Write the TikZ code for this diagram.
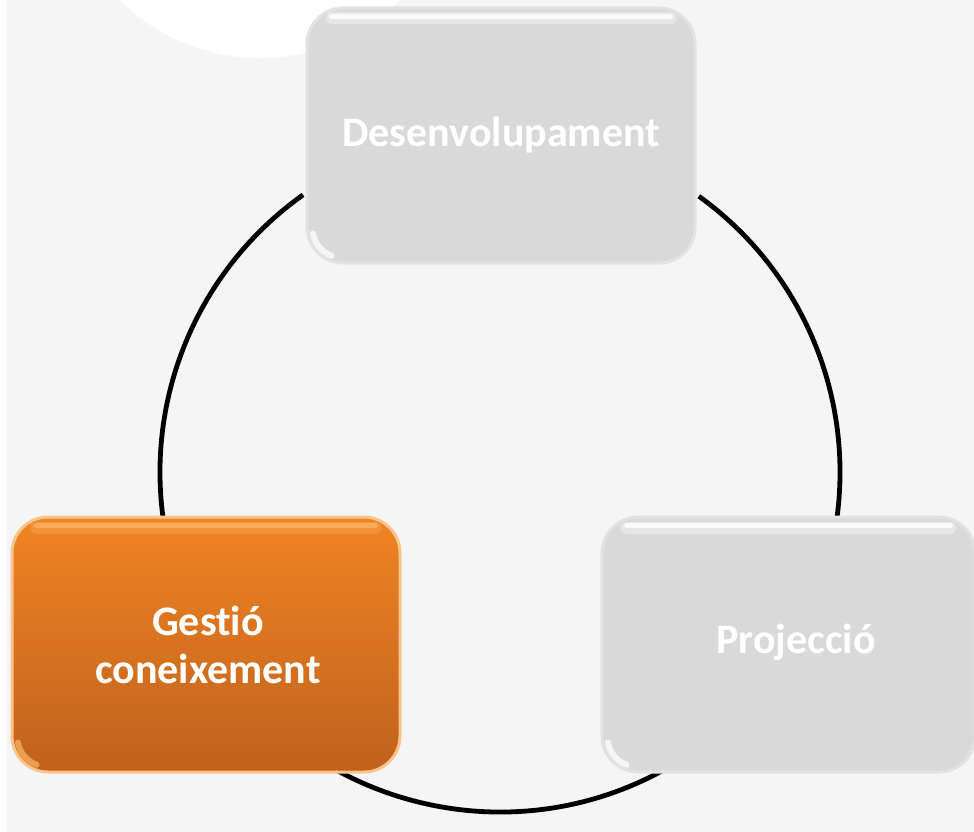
\documentclass[tikz,border=0pt]{standalone}
\usepackage{fontspec}
\setmainfont{Carlito}[Ligatures=NoCommon]
\usetikzlibrary{calc}
\definecolor{bg}{RGB}{245,245,245}
\definecolor{boxgray}{RGB}{217,217,217}
\definecolor{edgegray}{RGB}{226,226,226}
\definecolor{orTop}{RGB}{240,132,36}
\definecolor{orBot}{RGB}{192,97,27}
\definecolor{orGlow}{RGB}{249,196,140}
\definecolor{orHi}{RGB}{250,178,100}
\tikzset{
  stagebox/.style={rounded corners=36pt, minimum height=255pt, inner sep=0pt},
  graybox/.style={stagebox, fill=boxgray, draw=edgegray, line width=3pt},
  orangebox/.style={stagebox, top color=orTop, bottom color=orBot, draw=orGlow, line width=3pt},
  stagetext/.style={text=white, font=\fontsize{42}{48}\selectfont\bfseries, align=center, inner sep=0pt},
  ringline/.style={draw=black, line width=4.8pt},
  glosswide/.style={line width=12pt, line cap=round, opacity=0.35},
  glossthin/.style={line width=5pt, line cap=round, opacity=0.8},
}
\begin{document}
\begin{tikzpicture}[x=1pt,y=-1pt]
\useasboundingbox (0,0) rectangle (974,832);
\clip (0,0) rectangle (974,832);
% background
\fill[white] (0,0) rectangle (974,832);
\fill[bg] (7,0) rectangle (974,832);
\fill[white] (260,-140) circle[radius=198];
% ring (connector circle)
\coordinate (ring) at (500,472);
\draw[ringline] (ring) ++(160:340) arc[start angle=160, end angle=234.6, radius=340];
\draw[ringline] (ring) ++(-54.2:340) arc[start angle=-54.2, end angle=30, radius=340];
\draw[ringline] (ring) ++(61:340) arc[start angle=61, end angle=150, radius=340];
% boxes
\node[graybox, minimum width=388pt] (dev) at (501,135.5) {};
\node[orangebox, minimum width=388pt] (gest) at (206,644.5) {};
\node[graybox, minimum width=373pt] (proj) at (788.5,644.5) {};
% gloss highlights
\foreach \b/\c in {dev/white, proj/white, gest/orHi}{
  \draw[glosswide, draw=\c] ($(\b.north west)+(26,12)$) -- ($(\b.north east)+(-26,12)$);
  \draw[glossthin, draw=\c] ($(\b.north west)+(26,10)$) -- ($(\b.north east)+(-26,10)$);
  \draw[glossthin, draw=\c, line width=6pt, opacity=0.75] ($(\b.south west)+(36,-36)$) ++(170:29) arc[start angle=170, end angle=110, radius=29];
}
% labels
\node[stagetext] (devlabel) at (dev.center) {Desenvolupament};
\node[stagetext] (gestlabel) at ([xshift=2pt]gest.center) {Gestió\\coneixement};
\node[stagetext] (projlabel) at (796,642) {Projecció};
\end{tikzpicture}
\end{document}
